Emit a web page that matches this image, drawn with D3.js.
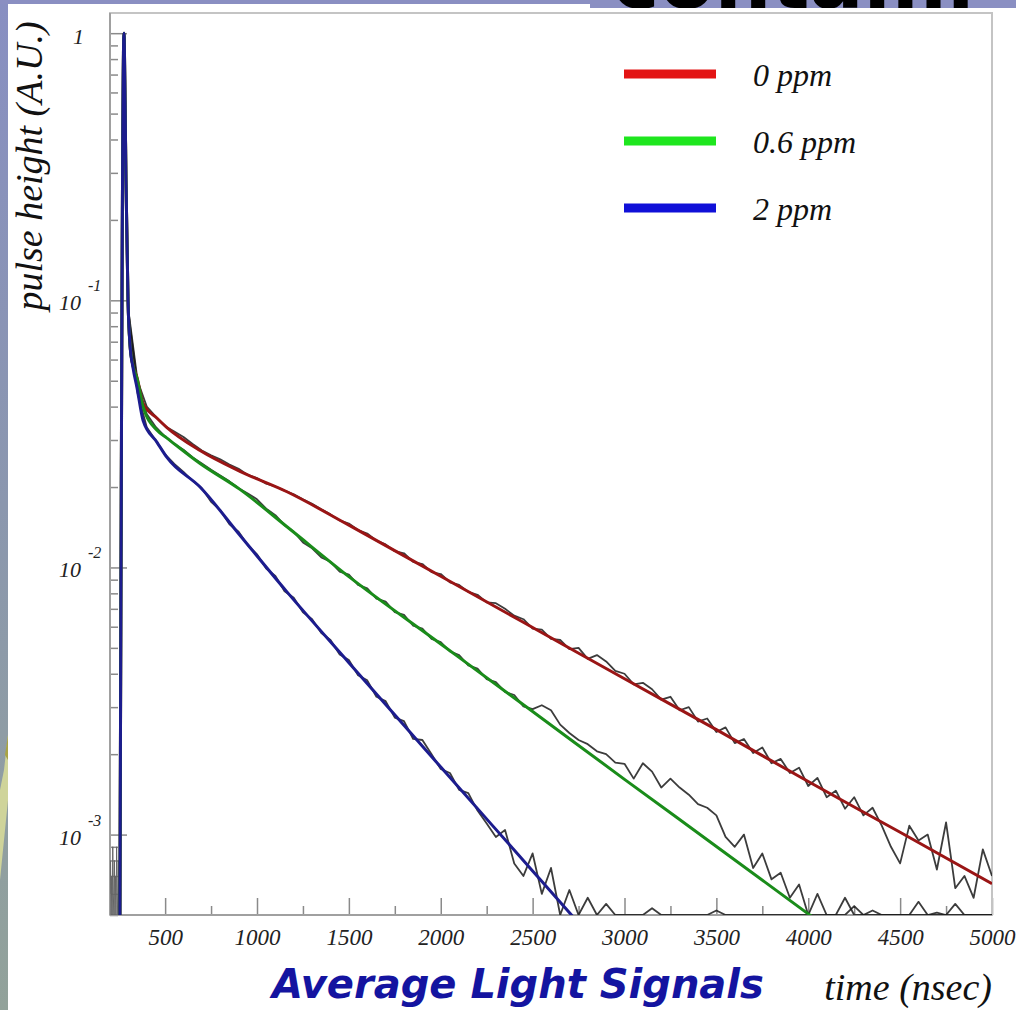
<!DOCTYPE html>
<html><head><meta charset="utf-8">
<script src="https://cdn.jsdelivr.net/npm/d3@7"></script>
<style>body{margin:0;background:#fff}svg{display:block}</style>
</head><body>
<svg id="c" width="1016" height="1010"></svg>
<script>
// ---------- data ----------
const seriesNames = ["0 ppm", "0.6 ppm", "2 ppm"];
const xMajorTicks = [500, 1000, 1500, 2000, 2500, 3000, 3500, 4000, 4500, 5000];
const xMinorTicks = [250, 750, 1250, 1750, 2250, 2750, 3250, 3750, 4250, 4750];
const yMajorTicks = [1, 0.1, 0.01, 0.001];
const yTickBase = ["1", "10", "10", "10"];
const yTickExp = ["", "-1", "-2", "-3"];

// fitted curves (time in ns, pulse height A.U.)
const fitTimes = [254, 276, 282, 287, 298, 309, 325, 347, 380, 456, 510, 690, 907, 1163, 1500, 2000, 2500, 3000, 3500, 4000, 4500, 5000];
const fit0ppm  = [0.0005, 1.0, 0.56, 0.28, 0.1, 0.068, 0.057, 0.0515, 0.0411, 0.0362, 0.0334, 0.0274, 0.0229, 0.0192, 0.0144, 0.00927, 0.00596, 0.00383, 0.00247, 0.00158, 0.00102, 0.000655];
const fit06ppm = [0.0005, 1.0, 0.56, 0.28, 0.1, 0.068, 0.057, 0.0510, 0.0400, 0.0326, 0.0305, 0.0245, 0.0196, 0.0142, 0.00924, 0.00517, 0.00289, 0.00161, 0.000903, 0.000505, 0.000283, 0.000158];
const fit2ppm  = [0.0005, 1.0, 0.56, 0.28, 0.1, 0.068, 0.056, 0.0470, 0.0355, 0.0294, 0.0258, 0.0200, 0.0132, 0.0081, 0.0044, 0.00179, 0.000731, 0.000298, 0.000121, 0.0000493, 0.00002, 0.0000082];

// pre-trigger baseline noise
const preTimes  = [200, 203, 206, 209, 212, 215, 218, 221, 224, 227, 230, 233, 236, 239, 242, 245, 248, 251];
const preValues = [0.0006, 0.0008, 0.0005, 0.0007, 0.0005, 0.0009, 0.0006, 0.0005, 0.0008, 0.0005, 0.0007, 0.0005, 0.0009, 0.0006, 0.0005, 0.0008, 0.0005, 0.0007];

// measured averaged signals, sampled every 50 ns from 300 ns to 5000 ns
const dataTimes = d3.range(300, 5001, 50);
const data0ppm = [0.092, 0.050,
  0.0400, 0.0366, 0.0338, 0.0323, 0.0308, 0.0290, 0.0274, 0.0263, 0.0254, 0.0243,
  0.0234, 0.0222, 0.0216, 0.0206, 0.0201, 0.0194, 0.0188, 0.0180, 0.0173, 0.0165,
  0.0158, 0.0150, 0.0146, 0.0138, 0.0134, 0.0126, 0.0122, 0.0115, 0.0113, 0.0105,
  0.0103, 0.00960, 0.00945, 0.00880, 0.00860, 0.00810, 0.00790, 0.00740, 0.00735, 0.00700,
  0.00660, 0.00640, 0.00590, 0.00585, 0.00540, 0.00535, 0.00495, 0.00500, 0.00455, 0.00470,
  0.00445, 0.00410, 0.00400, 0.00365, 0.00370, 0.00350, 0.00320, 0.00328, 0.00292, 0.00300,
  0.00265, 0.00272, 0.00242, 0.00252, 0.00220, 0.00228, 0.00202, 0.00212, 0.00185, 0.00192,
  0.00170, 0.00178, 0.00152, 0.00163, 0.00138, 0.00146, 0.00125, 0.00138, 0.00118, 0.00126,
  0.00108, 0.00090, 0.00078, 0.00108, 0.00095, 0.00100, 0.00074, 0.00111, 0.00063, 0.00070,
  0.00058, 0.00088, 0.00070];
const data06ppm = [0.090, 0.048,
  0.0375, 0.0335, 0.0309, 0.0290, 0.0276, 0.0258, 0.0245, 0.0232, 0.0221, 0.0210,
  0.0198, 0.0189, 0.0180, 0.0166, 0.0157, 0.0144, 0.0136, 0.0124, 0.0118, 0.0109,
  0.0105, 0.00965, 0.00940, 0.00860, 0.00835, 0.00765, 0.00745, 0.00680, 0.00665, 0.00605,
  0.00590, 0.00540, 0.00525, 0.00485, 0.00470, 0.00430, 0.00418, 0.00382, 0.00372, 0.00342,
  0.00333, 0.00302, 0.00295, 0.00305, 0.00292, 0.00258, 0.00240, 0.00226, 0.00218, 0.00205,
  0.00200, 0.00186, 0.00184, 0.00162, 0.00185, 0.00172, 0.00150, 0.00162, 0.00150, 0.00141,
  0.00130, 0.00126, 0.00118, 0.00098, 0.00090, 0.00100, 0.00075, 0.00085, 0.00068, 0.00072,
  0.00058, 0.00065, 0.00048, 0.00060, 0.00050, 0.00045, 0.00058, 0.00045, 0.00040, 0.00052,
  0.00040, 0.00045, 0.00040, 0.00042, 0.00056, 0.00040, 0.00042, 0.00040, 0.00055, 0.00040,
  0.00046, 0.00040, 0.00040];
const data2ppm = [0.088, 0.045,
  0.0335, 0.0298, 0.0265, 0.0244, 0.0228, 0.0211, 0.0198, 0.0176, 0.0164, 0.0145,
  0.0136, 0.0121, 0.0112, 0.0099, 0.0093, 0.00815, 0.00770, 0.00680, 0.00640, 0.00568,
  0.00535, 0.00472, 0.00450, 0.00395, 0.00378, 0.00328, 0.00316, 0.00274, 0.00266, 0.00228,
  0.00226, 0.00200, 0.00176, 0.00170, 0.00147, 0.00143, 0.00123, 0.00110, 0.00098, 0.00104,
  0.00078, 0.00070, 0.00085, 0.00060, 0.00075, 0.00048, 0.00062, 0.00044, 0.00058, 0.00042,
  0.00055, 0.00040, 0.00046, 0.00040, 0.00040, 0.00053, 0.00040, 0.00040, 0.00048, 0.00040,
  0.00040, 0.00040, 0.00052, 0.00040, 0.00040, 0.00045, 0.00040, 0.00040, 0.00040, 0.00050,
  0.00040, 0.00040, 0.00040, 0.00047, 0.00040, 0.00040, 0.00040, 0.00054, 0.00040, 0.00040,
  0.00040, 0.00046, 0.00040, 0.00040, 0.00040, 0.00040, 0.00051, 0.00040, 0.00040, 0.00040,
  0.00040, 0.00044, 0.00040];

const legendColors = ["#e31414", "#1ee61e", "#1010d8"];
const fitColors = ["#9a1515", "#1a8c1a", "#1c1c8e"];

// ---------- layout ----------
const svg = d3.select("#c");
const L = 110, R = 992, T = 13, B = 915;
const x = d3.scaleLinear().domain([200, 5000]).range([L, R]);
const y = d3.scaleLog().domain([0.0005, 1.19]).range([B, T]);
const yc = y.copy().clamp(true);

// slide background bits
const defs = svg.append("defs");
const g1 = defs.append("linearGradient").attr("id", "side").attr("x1", 0).attr("y1", 0).attr("x2", 0).attr("y2", 1);
g1.append("stop").attr("offset", "0%").attr("stop-color", "#888fc2");
g1.append("stop").attr("offset", "50%").attr("stop-color", "#8b97ae");
g1.append("stop").attr("offset", "100%").attr("stop-color", "#92a29a");
svg.append("rect").attr("x", 0).attr("y", 0).attr("width", 8).attr("height", 1010).attr("fill", "url(#side)");
svg.append("path").attr("d", "M8,735 L4,770 L0,790 L0,880 L3,850 L8,800 Z").attr("fill", "#cfd49a");
svg.append("path").attr("d", "M8,735 L5,755 L8,760 Z").attr("fill", "#a9a444");
svg.append("rect").attr("x", 0).attr("y", 0).attr("width", 1016).attr("height", 4).attr("fill", "#8a8fc2");
svg.append("rect").attr("x", 590).attr("y", 0).attr("width", 426).attr("height", 8).attr("fill", "#8a8fc2");
defs.append("clipPath").attr("id", "topclip").append("rect").attr("x", 590).attr("y", 0).attr("width", 426).attr("height", 8);
svg.append("text").attr("clip-path", "url(#topclip)").attr("x", 612).attr("y", 8)
  .attr("font-family", "DejaVu Sans").attr("font-weight", "bold").attr("font-size", 80)
  .attr("fill", "#000").text("contami");

// plot clip
defs.append("clipPath").attr("id", "plot").append("rect").attr("x", L).attr("y", T).attr("width", R - L).attr("height", B - T);

// ticks
const tickColor = "#8a8a8a";
const xAxisMajor = svg.append("g").attr("transform", `translate(0,${B})`)
  .call(d3.axisBottom(x).tickValues(xMajorTicks).tickSize(-17).tickPadding(14).tickFormat(d3.format("d")));
const xAxisMinor = svg.append("g").attr("transform", `translate(0,${B})`)
  .call(d3.axisBottom(x).tickValues(xMinorTicks).tickSize(-9).tickFormat(""));
const yMinor = [];
[0.001, 0.01, 0.1].forEach(d => { for (let k = 2; k <= 9; k++) yMinor.push(d * k); });
[0.0005, 0.0006, 0.0007, 0.0008, 0.0009].forEach(v => yMinor.push(v));
const yAxisMajor = svg.append("g").attr("transform", `translate(${L},0)`)
  .call(d3.axisLeft(y).tickValues(yMajorTicks).tickSize(-17).tickFormat(""));
const yAxisMinor = svg.append("g").attr("transform", `translate(${L},0)`)
  .call(d3.axisLeft(y).tickValues(yMinor).tickSize(-8).tickFormat(""));
[xAxisMajor, xAxisMinor, yAxisMajor, yAxisMinor].forEach(a => {
  a.select(".domain").remove();
  a.selectAll(".tick line").attr("stroke", tickColor).attr("stroke-width", 1.5);
});
xAxisMajor.selectAll(".tick text").attr("font-family", "Liberation Serif").attr("font-style", "italic")
  .attr("font-size", 23).attr("fill", "#222");

// frame
svg.append("rect").attr("x", L).attr("y", T).attr("width", R - L).attr("height", B - T)
  .attr("fill", "none").attr("stroke", "#c4c4c4").attr("stroke-width", 2);
svg.append("line").attr("x1", L).attr("x2", L).attr("y1", T).attr("y2", B).attr("stroke", "#a0a0a0").attr("stroke-width", 2);
svg.append("line").attr("x1", L).attr("x2", R).attr("y1", B).attr("y2", B).attr("stroke", "#a0a0a0").attr("stroke-width", 2);

// y tick labels
yMajorTicks.forEach((v, i) => {
  const ty = y(v);
  if (yTickExp[i] === "") {
    svg.append("text").attr("x", 84).attr("y", ty + 11).attr("text-anchor", "end")
      .attr("font-family", "Liberation Serif").attr("font-style", "italic").attr("font-size", 22).attr("fill", "#222")
      .text(yTickBase[i]);
  } else {
    svg.append("text").attr("x", 81).attr("y", ty + 10).attr("text-anchor", "end")
      .attr("font-family", "Liberation Serif").attr("font-style", "italic").attr("font-size", 22).attr("fill", "#222")
      .text(yTickBase[i]);
    svg.append("text").attr("x", 88).attr("y", ty - 9)
      .attr("font-family", "Liberation Serif").attr("font-style", "italic").attr("font-size", 16).attr("fill", "#222")
      .text(yTickExp[i]);
  }
});

// data + fits
const plot = svg.append("g").attr("clip-path", "url(#plot)");
const dataLine = d3.line().x(d => x(d[0])).y(d => yc(d[1]));
plot.append("path").datum(preTimes.map((t, i) => [t, preValues[i]]))
  .attr("d", dataLine).attr("fill", "none").attr("stroke", "#666").attr("stroke-width", 1);
[data0ppm, data06ppm, data2ppm].forEach(arr => {
  plot.append("path").datum(dataTimes.map((t, i) => [t, arr[i]]))
    .attr("d", dataLine).attr("fill", "none").attr("stroke", "#1a1a1a").attr("stroke-width", 1.8)
    .attr("stroke-opacity", 0.85).attr("stroke-linejoin", "round");
});
const fitLine = d3.line().x(d => x(d[0])).y(d => y(d[1])).curve(d3.curveMonotoneX);
[fit0ppm, fit06ppm, fit2ppm].forEach((arr, i) => {
  plot.append("path").datum(fitTimes.map((t, k) => [t, arr[k]]))
    .attr("d", fitLine).attr("fill", "none").attr("stroke", fitColors[i]).attr("stroke-width", 3)
    .attr("stroke-linejoin", "round");
});

// legend
const lg = svg.append("g");
seriesNames.forEach((name, i) => {
  const ly = 74 + i * 67;
  lg.append("line").attr("x1", 624).attr("x2", 716).attr("y1", ly).attr("y2", ly)
    .attr("stroke", legendColors[i]).attr("stroke-width", 9);
  lg.append("text").attr("x", 753).attr("y", ly + 12)
    .attr("font-family", "Liberation Serif").attr("font-style", "italic").attr("font-size", 32).attr("fill", "#111")
    .text(name);
});

// titles
svg.append("text").attr("transform", "translate(42,166) rotate(-90)").attr("text-anchor", "middle")
  .attr("font-family", "Liberation Serif").attr("font-style", "italic").attr("font-size", 38).attr("fill", "#111")
  .text("pulse height (A.U.)");
svg.append("text").attr("x", 992).attr("y", 1000).attr("text-anchor", "end")
  .attr("font-family", "Liberation Serif").attr("font-style", "italic").attr("font-size", 38).attr("fill", "#111")
  .text("time (nsec)");
svg.append("text").attr("x", 272).attr("y", 998)
  .attr("font-family", "'Comic Sans MS', 'DejaVu Sans'").attr("font-weight", "bold").attr("font-style", "italic")
  .attr("font-size", 40).attr("fill", "#1414a0")
  .text("Average Light Signals");
</script>
</body></html>
